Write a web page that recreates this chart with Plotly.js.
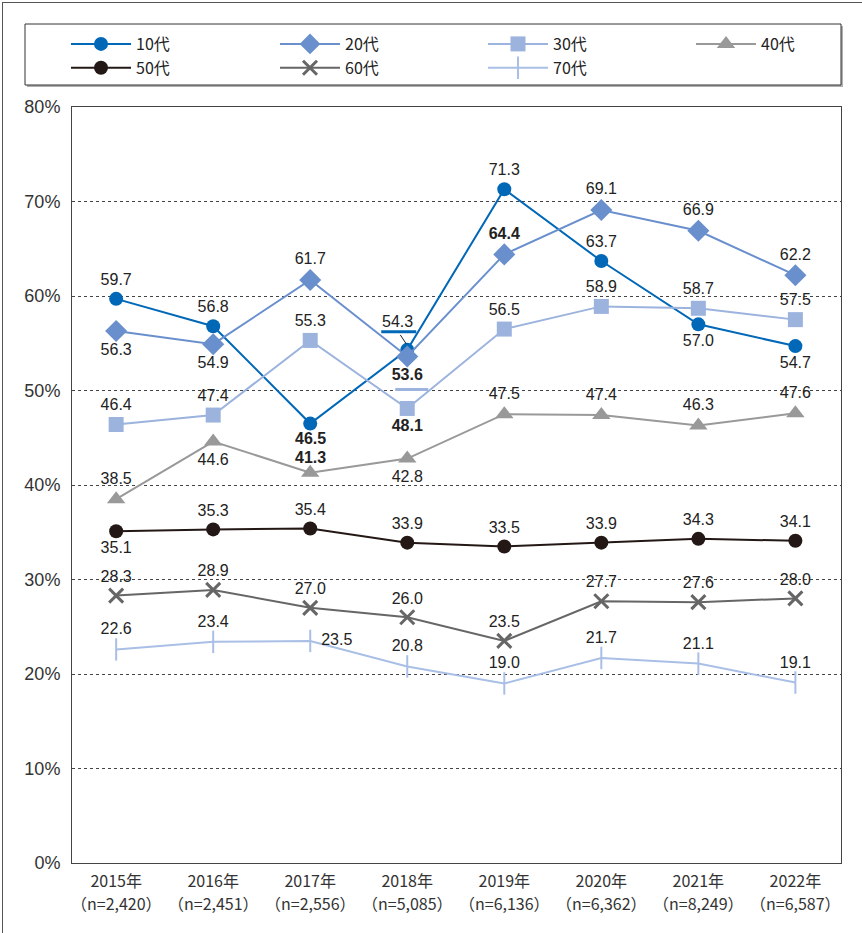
<!DOCTYPE html>
<html><head><meta charset="utf-8">
<script src="https://cdn.plot.ly/plotly-3.0.1.min.js"></script>
<style>
html,body{margin:0;padding:0;background:#fff;}
#wrap{position:absolute;left:0;top:0;width:862px;height:933px;}
#frame{position:absolute;left:2px;top:2px;width:862px;height:933px;border-left:1px solid #555;border-top:1px solid #555;pointer-events:none;}
#chart{width:862px;height:933px;}
</style></head>
<body><div id="wrap"><div id="chart"></div><div id="frame"></div></div>
<script>
const years = ["2015年","2016年","2017年","2018年","2019年","2020年","2021年","2022年"];
const samples = ["（n=2,420）","（n=2,451）","（n=2,556）","（n=5,085）","（n=6,136）","（n=6,362）","（n=8,249）","（n=6,587）"];
const seriesNames = ["10代","20代","30代","40代","50代","60代","70代"];
const v10 = [59.7, 56.8, 46.5, 54.3, 71.3, 63.7, 57.0, 54.7];
const v20 = [56.3, 54.9, 61.7, 53.6, 64.4, 69.1, 66.9, 62.2];
const v30 = [46.4, 47.4, 55.3, 48.1, 56.5, 58.9, 58.7, 57.5];
const v40 = [38.5, 44.6, 41.3, 42.8, 47.5, 47.4, 46.3, 47.6];
const v50 = [35.1, 35.3, 35.4, 33.9, 33.5, 33.9, 34.3, 34.1];
const v60 = [28.3, 28.9, 27.0, 26.0, 23.5, 27.7, 27.6, 28.0];
const v70 = [22.6, 23.4, 23.5, 20.8, 19.0, 21.7, 21.1, 19.1];

const xs = years.map((_, i) => i);
const T = 'top center', B = 'bottom center';
const styles = [
  {vals: v10, color: '#0068b7', symbol: 'circle', size: 14, pos: [T,T,B,T,T,T,B,B], bold: [2], hide: [2,3], lg: 'legend'},
  {vals: v20, color: '#6a8fcd', symbol: 'diamond', size: 17, pos: [B,B,T,B,T,T,T,T], bold: [3,4], hide: [], lg: 'legend2'},
  {vals: v30, color: '#9cb3de', symbol: 'square', size: 15, pos: [T,T,T,B,T,T,T,T], bold: [3], hide: [], lg: 'legend3'},
  {vals: v40, color: '#999999', symbol: 'triangle-up', size: 16, pos: [T,B,T,B,T,T,T,T], bold: [2], hide: [2], lg: 'legend4'},
  {vals: v50, color: '#231815', symbol: 'circle', size: 14, pos: [B,T,T,T,T,T,T,T], bold: [], hide: [], lg: 'legend'},
  {vals: v60, color: '#666666', symbol: 'x-thin', size: 14, pos: [T,T,T,T,T,T,T,T], bold: [], hide: [], lg: 'legend2'},
  {vals: v70, color: '#a9bfe5', symbol: 'line-ns', size: 16, pos: [T,T,'middle right',T,T,T,T,T], bold: [], hide: [], lg: 'legend3'}
];
const numFont = 'Liberation Sans, Arial, sans-serif';
const tickFont = 'Liberation Sans Narrow, Noto Sans CJK JP, sans-serif';
const traces = styles.map((s, k) => ({
  type: 'scatter', mode: 'lines+markers+text', name: seriesNames[k], legend: s.lg,
  x: xs, y: s.vals,
  text: s.vals.map((v, i) => s.hide.includes(i) ? '' : (s.bold.includes(i) ? '<b>' + v.toFixed(1) + '</b>' : v.toFixed(1))),
  textposition: s.pos,
  textfont: {family: numFont, size: 16, color: '#222'},
  line: {color: s.color, width: 2},
  marker: {color: s.color, symbol: s.symbol, size: s.size,
           line: {color: s.color, width: (s.symbol === 'x-thin' ? 3 : (s.symbol === 'line-ns' ? 2 : 0))}},
  cliponaxis: false, hoverinfo: 'skip'
}));

function legendAt(px) {
  return {orientation: 'v', xref: 'container', yref: 'container', x: px / 862, y: 1 - 27 / 933,
          xanchor: 'left', yanchor: 'top', itemwidth: 60, bgcolor: 'rgba(0,0,0,0)', borderwidth: 0,
          tracegroupgap: 0, traceorder: 'normal',
          font: {family: tickFont, size: 16, color: '#222'},
          itemclick: false, itemdoubleclick: false};
}
function lab(xi, y, txt, yshift, xshift) {
  return {x: xi, y: y, xref: 'x', yref: 'y', text: txt, showarrow: false, yshift: yshift, xshift: xshift || 0,
          xanchor: 'center', yanchor: 'middle', font: {family: numFont, size: 16, color: '#222'}};
}
const sampleNotes = samples.map((s, i) => ({
  x: i, y: 0, xref: 'x', yref: 'paper', text: s, showarrow: false, yshift: -40,
  xanchor: 'center', yanchor: 'middle', font: {family: tickFont, size: 16, color: '#333'}
}));

const layout = {
  width: 862, height: 933,
  margin: {l: 72, r: 21, t: 107, b: 70, autoexpand: false},
  paper_bgcolor: '#fff', plot_bgcolor: '#fff',
  showlegend: true,
  legend: legendAt(66), legend2: legendAt(275), legend3: legendAt(483), legend4: legendAt(691),
  xaxis: {range: [-0.455, 7.47], tickvals: xs, ticktext: years,
          showgrid: false, zeroline: false, showline: true, mirror: true, linecolor: '#444', linewidth: 1,
          ticks: 'outside', ticklen: 4, tickcolor: 'rgba(0,0,0,0)',
          tickfont: {family: tickFont, size: 16, color: '#333'}},
  yaxis: {range: [0, 80], dtick: 10, ticksuffix: '%', showgrid: true, gridcolor: '#444', griddash: 'dot', gridwidth: 1,
          zeroline: false, showline: true, mirror: true, linecolor: '#444', linewidth: 1, ticks: '',
          ticklabelstandoff: 7,
          tickfont: {family: numFont, size: 18, color: '#333'}},
  shapes: [
    {type: 'rect', xref: 'paper', yref: 'paper', x0: (27 - 72) / 769, x1: (843 - 72) / 769,
     y0: (863 - 87) / 756, y1: (863 - 26) / 756, line: {width: 0}, fillcolor: '#b0b0b0', layer: 'below'},
    {type: 'rect', xref: 'paper', yref: 'paper', x0: (25 - 72) / 769, x1: (841 - 72) / 769,
     y0: (863 - 85) / 756, y1: (863 - 24) / 756, line: {color: '#333', width: 1}, fillcolor: '#fff', layer: 'below'},
    {type: 'line', xref: 'x', yref: 'y', xsizemode: 'pixel', ysizemode: 'pixel', xanchor: 3, yanchor: v10[3],
     x0: -26, x1: 9, y0: 18, y1: 18, line: {color: '#0068b7', width: 3}},
    {type: 'line', xref: 'x', yref: 'y', xsizemode: 'pixel', ysizemode: 'pixel', xanchor: 3, yanchor: v10[3],
     x0: -7, x1: -1, y0: 15, y1: 6, line: {color: '#222', width: 1}},
    {type: 'line', xref: 'x', yref: 'y', xsizemode: 'pixel', ysizemode: 'pixel', xanchor: 3, yanchor: v20[3],
     x0: -12, x1: 21, y0: -33, y1: -33, line: {color: '#9cb3de', width: 3}}
  ],
  annotations: [
    lab(3, v10[3], v10[3].toFixed(1), 28, -10),
    lab(2, v10[2], '<b>' + v10[2].toFixed(1) + '</b>', -15),
    lab(2, v40[2], '<b>' + v40[2].toFixed(1) + '</b>', 15)
  ].concat(sampleNotes)
};
Plotly.newPlot('chart', traces, layout, {displayModeBar: false, staticPlot: true});
</script></body></html>
